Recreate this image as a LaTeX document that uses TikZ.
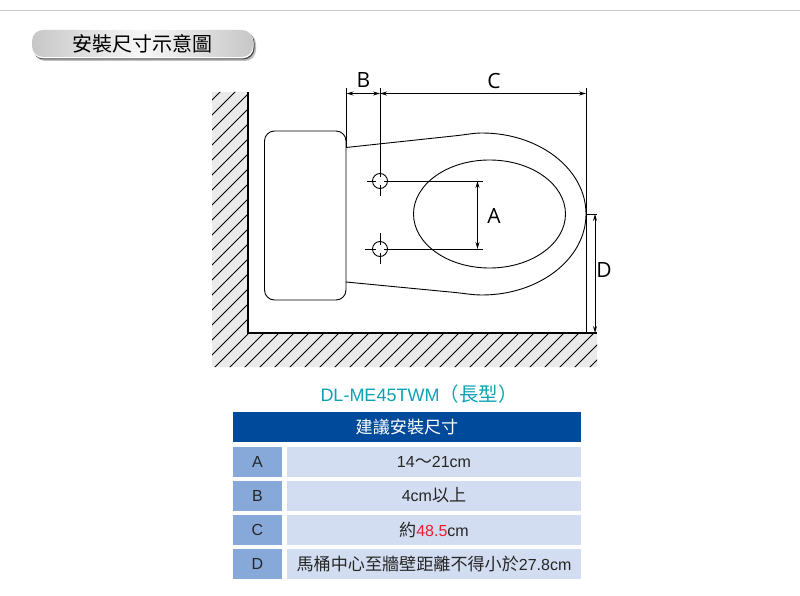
\documentclass[tikz,border=0pt]{standalone}
\usepackage{fontspec}
\setmainfont{Liberation Sans}
\newfontfamily\cjkfont{Noto Sans CJK TC}
\newfontfamily\dimfont{Open Sans}
\usetikzlibrary{arrows.meta}
\definecolor{wallgray}{HTML}{EAEAEA}
\definecolor{headblue}{HTML}{004A9C}
\definecolor{keyblue}{HTML}{86A9DA}
\definecolor{valblue}{HTML}{D3DDF1}
\definecolor{modelteal}{HTML}{0BA2B4}
\definecolor{sizered}{HTML}{ED1C2E}
\newcommand{\zh}[2][17.1]{{\cjkfont\fontsize{#1}{#1}\selectfont #2}}

\tikzset{
  part/.style={draw, line width=0.9pt, fill=white},
  dimline/.style={draw, line width=0.9pt},
  dimarrow/.style={dimline, {Stealth[length=7pt,width=4pt]}-{Stealth[length=7pt,width=4pt]}},
  dimlabel/.style={inner sep=0pt, font=\dimfont\fontsize{21}{21}\selectfont},
  hole/.style={circle, draw, line width=0.9pt, minimum size=15pt, inner sep=0pt},
  keycell/.style={fill=keyblue, minimum width=49pt, minimum height=30pt, inner sep=0pt, text=black!85,
    font=\fontsize{16}{16}\selectfont},
  valcell/.style={fill=valblue, minimum width=294pt, minimum height=30pt, inner sep=0pt, text=black!85,
    font=\fontsize{16}{16}\selectfont}
}

\begin{document}
\begin{tikzpicture}[x=1pt, y=-1pt]
  \useasboundingbox (0,0) rectangle (800,596);
  \draw [black!20, line width=1pt] (0,10.5) -- (800,10.5);

  \fill [black!25, rounded corners=11pt] (34,33) rectangle (256,61);
  \fill [black!70, rounded corners=11pt] (33,32) rectangle (254.5,59.5);
  \fill [white, rounded corners=11pt] (32,31) rectangle (253.5,58.3);
  \node (title) [rounded corners=11pt, minimum width=221pt, minimum height=27pt, inner sep=0pt,
    left color=black!22, right color=black!22, middle color=black!3] at (142.5,43.5)
    {\zh[20]{安裝尺寸示意圖}};

  \begin{scope}
    \clip (212,92) -- (248,92) -- (248,333) -- (597,333) -- (597,367) -- (212,367) -- cycle;
    \fill [wallgray] (212,92) rectangle (597,367);
    \foreach \c in {297,312,...,972}
    {
      \draw [line width=0.8pt] ({\c-375},375) -- ({\c-85},85);
    }
  \end{scope}
  \draw [line width=2pt] (248,92) -- (248,333) -- (597,333);

  \node (tank) [part, rounded corners=10pt, minimum width=81.5pt, minimum height=169pt, inner sep=0pt]
    at (305.25,215.5) {};
  \draw [line width=0.9pt] (346,147.5) -- (458,135.5) .. controls (466,134.6) and (474,133) .. (482,133)
    .. controls (539,133) and (586,169) .. (586,214)
    .. controls (586,259) and (539,295) .. (482,295)
    .. controls (472,295) and (462,293) .. (450,292) -- (346,282);
  \draw [line width=0.9pt] (489.5,214) ellipse [x radius=76, y radius=54];

  \node (holetop) [hole] at (380,181) {};
  \node (holebot) [hole] at (380,249) {};

  \coordinate (btop) at (346.5,88);
  \coordinate (bbot) at (346.5,147.5);
  \coordinate (ctop) at (380,88);
  \coordinate (cbot) at (380,177);
  \coordinate (rtop) at (586,88);
  \coordinate (rbot) at (586,333);
  \coordinate (bleft) at (346.5,93.5);
  \coordinate (bright) at (380,93.5);
  \coordinate (cright) at (586,93.5);
  \coordinate (atop) at (483,181);
  \coordinate (abot) at (483,249);
  \coordinate (atip) at (477.5,181);
  \coordinate (aend) at (477.5,249);
  \coordinate (dtick) at (597,214);
  \coordinate (dbase) at (586,214);
  \coordinate (dtip) at (595,214);
  \coordinate (dend) at (595,333);

  \draw [dimline] (btop) -- (bbot);
  \draw [dimline] (ctop) -- (cbot);
  \draw [dimline] (rtop) -- (rbot);
  \draw [dimline] (dbase) -- (dtick);
  \draw [dimline] (380,185) -- (380,196);
  \draw [dimline] (380,233) -- (380,245);
  \draw [dimline] (380,253) -- (380,264);
  \draw [dimline] (367,181) -- (376,181);
  \draw [dimline] (365,249) -- (376,249);
  \draw [dimline] (384,181) -- (atop);
  \draw [dimline] (384,249) -- (abot);
  \draw [dimarrow] (bleft) -- (bright);
  \draw [dimarrow] (bright) -- (cright);
  \draw [dimarrow] (atip) -- (aend);
  \draw [dimarrow] (dtip) -- (dend);

  \node (labelb) [dimlabel] at (363.5,80.5) {B};
  \node (labelc) [dimlabel] at (494,81) {C};
  \node (labela) [dimlabel] at (494,216) {A};
  \node (labeld) [dimlabel] at (604,270) {D};

  \node (model) [text=modelteal, inner sep=0pt, font=\fontsize{18}{18}\selectfont] at (419,394.5)
    {DL-ME45TWM\zh[19.5]{（長型）}};
  \node (head) [fill=headblue, text=white, minimum width=348pt, minimum height=30pt, inner sep=0pt]
    at (407,427) {\zh{建議安裝尺寸}};

  \foreach \rowkey/\rowy/\rowtext in {
      A/461.5/{14\zh{～}21cm},
      B/495.5/{4cm\zh{以上}},
      C/529.7/{\zh{約}\textcolor{sizered}{48.5}cm},
      D/564/{\zh{馬桶中心至牆壁距離不得小於}27.8cm}}
  {
    \node (key\rowkey) [keycell] at (257.5,\rowy) {\rowkey};
    \node (val\rowkey) [valcell] at (434,\rowy) {\rowtext};
  }
\end{tikzpicture}
\end{document}
